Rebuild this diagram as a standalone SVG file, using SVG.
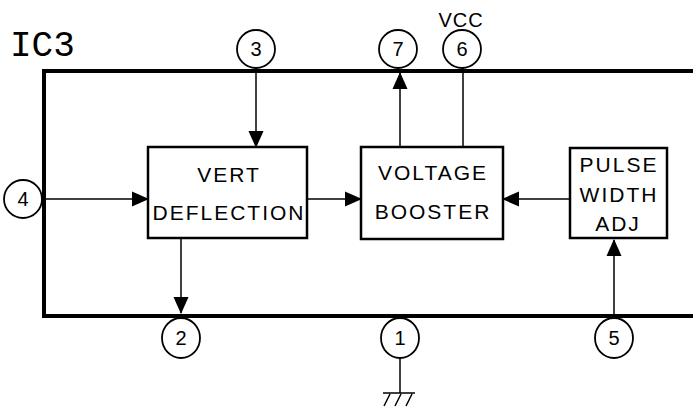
<svg xmlns="http://www.w3.org/2000/svg" width="693" height="413" viewBox="0 0 693 413">
<style>
.t{font-family:"Liberation Sans","DejaVu Sans",sans-serif;fill:#000;text-anchor:middle}
.lbl{font-size:21px;letter-spacing:2px}
.pin{font-size:20px}
.box{fill:#fff;stroke:#000;stroke-width:2.5}
.pc{fill:#fff;stroke:#000;stroke-width:1.8}
.w{fill:none;stroke:#000;stroke-width:1.5}
.frame{fill:none;stroke:#000;stroke-width:4}
</style>
<defs>
<marker id="ah" markerWidth="17" markerHeight="17" viewBox="0 0 17 17" refX="16" refY="8.5" orient="auto" markerUnits="userSpaceOnUse">
<path d="M0,1 L17,8.5 L0,16 Z" fill="#000"/>
</marker>
</defs>
<rect width="693" height="413" fill="#fff"/>
<text x="10" y="56" style="font-family:'Liberation Mono','DejaVu Sans Mono',monospace;font-size:36px">IC3</text>
<text class="t" x="461" y="27" style="font-size:20px;letter-spacing:1px">VCC</text>
<path class="frame" d="M693,71 L44,71 L44,316 L693,316"/>
<g id="connectors">
<line class="w" x1="256" y1="67" x2="256" y2="147" marker-end="url(#ah)"/>
<line class="w" x1="44" y1="199" x2="148" y2="199" marker-end="url(#ah)"/>
<line class="w" x1="307" y1="199" x2="361" y2="199" marker-end="url(#ah)"/>
<line class="w" x1="400" y1="147" x2="400" y2="73" marker-end="url(#ah)"/>
<line class="w" x1="463" y1="67" x2="463" y2="147"/>
<line class="w" x1="570" y1="199" x2="503" y2="199" marker-end="url(#ah)"/>
<line class="w" x1="181" y1="238" x2="181" y2="313" marker-end="url(#ah)"/>
<line class="w" x1="614" y1="318" x2="614" y2="240" marker-end="url(#ah)"/>
<line class="w" x1="400" y1="358" x2="400" y2="393"/>
<path class="w" d="M383,393 L415,393 M390,394 L384,406 M401,394 L395,406 M412,394 L406,406"/>
</g>
<g id="vert">
<rect class="box" x="148" y="147" width="159" height="91"/>
<text class="t lbl" x="229" y="182">VERT</text>
<text class="t lbl" x="229" y="220">DEFLECTION</text>
</g>
<g id="booster">
<rect class="box" x="361" y="147" width="142" height="92"/>
<text class="t lbl" x="433" y="180">VOLTAGE</text>
<text class="t lbl" x="433" y="219">BOOSTER</text>
</g>
<g id="pwa">
<rect class="box" x="570" y="148" width="97" height="90"/>
<text class="t lbl" x="619" y="172">PULSE</text>
<text class="t lbl" x="619" y="202">WIDTH</text>
<text class="t lbl" x="618" y="231">ADJ</text>
</g>
<g id="pin3"><ellipse class="pc" cx="256" cy="49" rx="19" ry="19"/><text class="t pin" x="256" y="56">3</text></g>
<g id="pin7"><ellipse class="pc" cx="398" cy="49" rx="19" ry="19"/><text class="t pin" x="398" y="56">7</text></g>
<g id="pin6"><ellipse class="pc" cx="462" cy="49" rx="19" ry="19"/><text class="t pin" x="462" y="56">6</text></g>
<g id="pin4"><ellipse class="pc" cx="23" cy="199" rx="19" ry="19"/><text class="t pin" x="23" y="206">4</text></g>
<g id="pin2"><ellipse class="pc" cx="181" cy="338" rx="19" ry="20"/><text class="t pin" x="181" y="345">2</text></g>
<g id="pin1"><ellipse class="pc" cx="400" cy="338" rx="19" ry="20"/><text class="t pin" x="400" y="345">1</text></g>
<g id="pin5"><ellipse class="pc" cx="614" cy="338" rx="19" ry="20"/><text class="t pin" x="614" y="345">5</text></g>
</svg>
